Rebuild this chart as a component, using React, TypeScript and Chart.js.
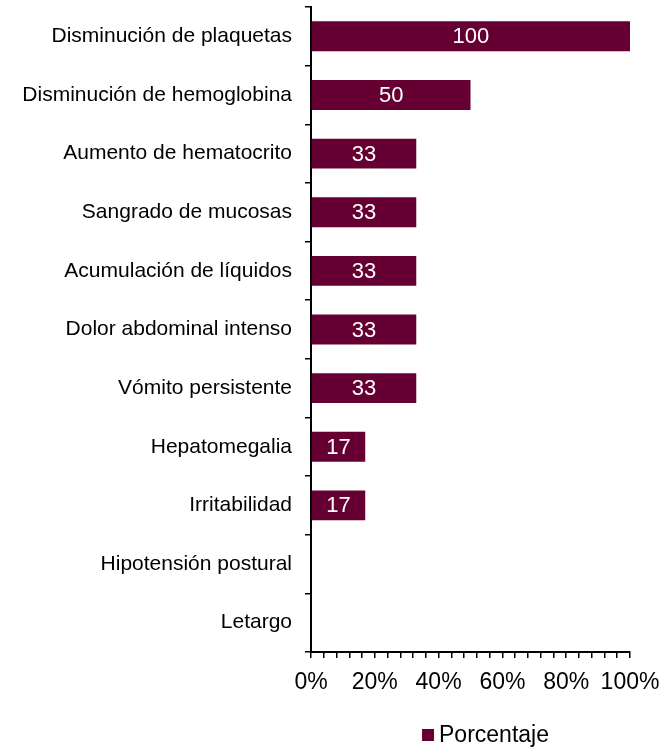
import React, { useEffect, useRef } from "react";
import { Chart, registerables } from "chart.js";

Chart.register(...registerables);

const categories = [
  "Disminución de plaquetas",
  "Disminución de hemoglobina",
  "Aumento de hematocrito",
  "Sangrado de mucosas",
  "Acumulación de líquidos",
  "Dolor abdominal intenso",
  "Vómito persistente",
  "Hepatomegalia",
  "Irritabilidad",
  "Hipotensión postural",
  "Letargo",
];
const values = [100, 50, 33, 33, 33, 33, 33, 17, 17, 0, 0];
const seriesLabel = "Porcentaje";
const barColor = "#660033";
const FONT = "'Liberation Sans', Arial, sans-serif";

const valueLabels = {
  id: "valueLabels",
  afterDatasetsDraw(chart: any) {
    const ctx = chart.ctx;
    const meta = chart.getDatasetMeta(0);
    ctx.save();
    ctx.fillStyle = "#ffffff";
    ctx.font = `22px ${FONT}`;
    ctx.textAlign = "center";
    ctx.textBaseline = "middle";
    meta.data.forEach((bar: any, i: number) => {
      const v = chart.data.datasets[0].data[i];
      if (!v) return;
      const cx = (bar.x + bar.base) / 2;
      ctx.fillText(String(v), cx, bar.y + 1);
    });
    ctx.restore();
  },
};

const customLegend = {
  id: "customLegend",
  afterDraw(chart: any) {
    const ctx = chart.ctx;
    const ds = chart.data.datasets[0];
    const area = chart.chartArea;
    ctx.save();
    ctx.font = `23px ${FONT}`;
    const tw = ctx.measureText(ds.label).width;
    const box = 12;
    const gap = 5;
    const total = box + gap + tw;
    const cx = (area.left + area.right) / 2 + 15;
    const x0 = cx - total / 2;
    const cy = 735;
    ctx.fillStyle = ds.backgroundColor;
    ctx.fillRect(x0, cy - box / 2, box, box);
    ctx.fillStyle = "#000000";
    ctx.textAlign = "left";
    ctx.textBaseline = "middle";
    ctx.fillText(ds.label, x0 + box + gap, cy + 1);
    ctx.restore();
  },
};

export default function App() {
  const ref = useRef<HTMLCanvasElement>(null);
  useEffect(() => {
    if (!ref.current) return;
    const chart = new Chart(ref.current, {
      type: "bar",
      data: {
        labels: categories,
        datasets: [
          {
            label: seriesLabel,
            data: values,
            backgroundColor: barColor,
            borderWidth: 0,
            barPercentage: 0.51,
            categoryPercentage: 1,
          },
        ],
      },
      options: {
        indexAxis: "y",
        animation: false,
        responsive: false,
        maintainAspectRatio: false,
        layout: { padding: { top: 7, right: 33, bottom: 0, left: 0 } },
        plugins: {
          legend: { display: false },
          tooltip: { enabled: false },
        },
        scales: {
          x: {
            min: 0,
            max: 100,
            border: { display: true, color: "#000", width: 2 },
            grid: {
              display: true,
              drawOnChartArea: false,
              drawTicks: true,
              tickLength: 6,
              color: "#000",
              lineWidth: 1.5,
            },
            ticks: {
              stepSize: 4,
              autoSkip: false,
              maxRotation: 0,
              padding: 11,
              color: "#000",
              font: { family: FONT, size: 23 },
              callback: (v: any) => (Number(v) % 20 === 0 ? `${v}%` : ""),
            },
            afterFit: (scale: any) => {
              scale.height = 96;
              scale.paddingLeft = 0;
              scale.paddingRight = 0;
            },
          },
          y: {
            border: { display: true, color: "#000", width: 2 },
            grid: {
              display: true,
              drawOnChartArea: false,
              drawTicks: true,
              offset: true,
              tickLength: 6,
              color: "#000",
              lineWidth: 1.5,
            },
            ticks: {
              autoSkip: false,
              padding: 13,
              color: "#000",
              font: { family: FONT, size: 21 },
            },
            afterFit: (scale: any) => {
              scale.width = 311;
              scale.paddingTop = 0;
              scale.paddingBottom = 0;
            },
          },
        },
      },
      plugins: [valueLabels, customLegend],
    });
    return () => chart.destroy();
  }, []);
  return (
    <div style={{ position: "fixed", left: 0, top: 0, width: 663, height: 748 }}>
      <canvas ref={ref} width={663} height={748} style={{ display: "block" }} />
    </div>
  );
}
